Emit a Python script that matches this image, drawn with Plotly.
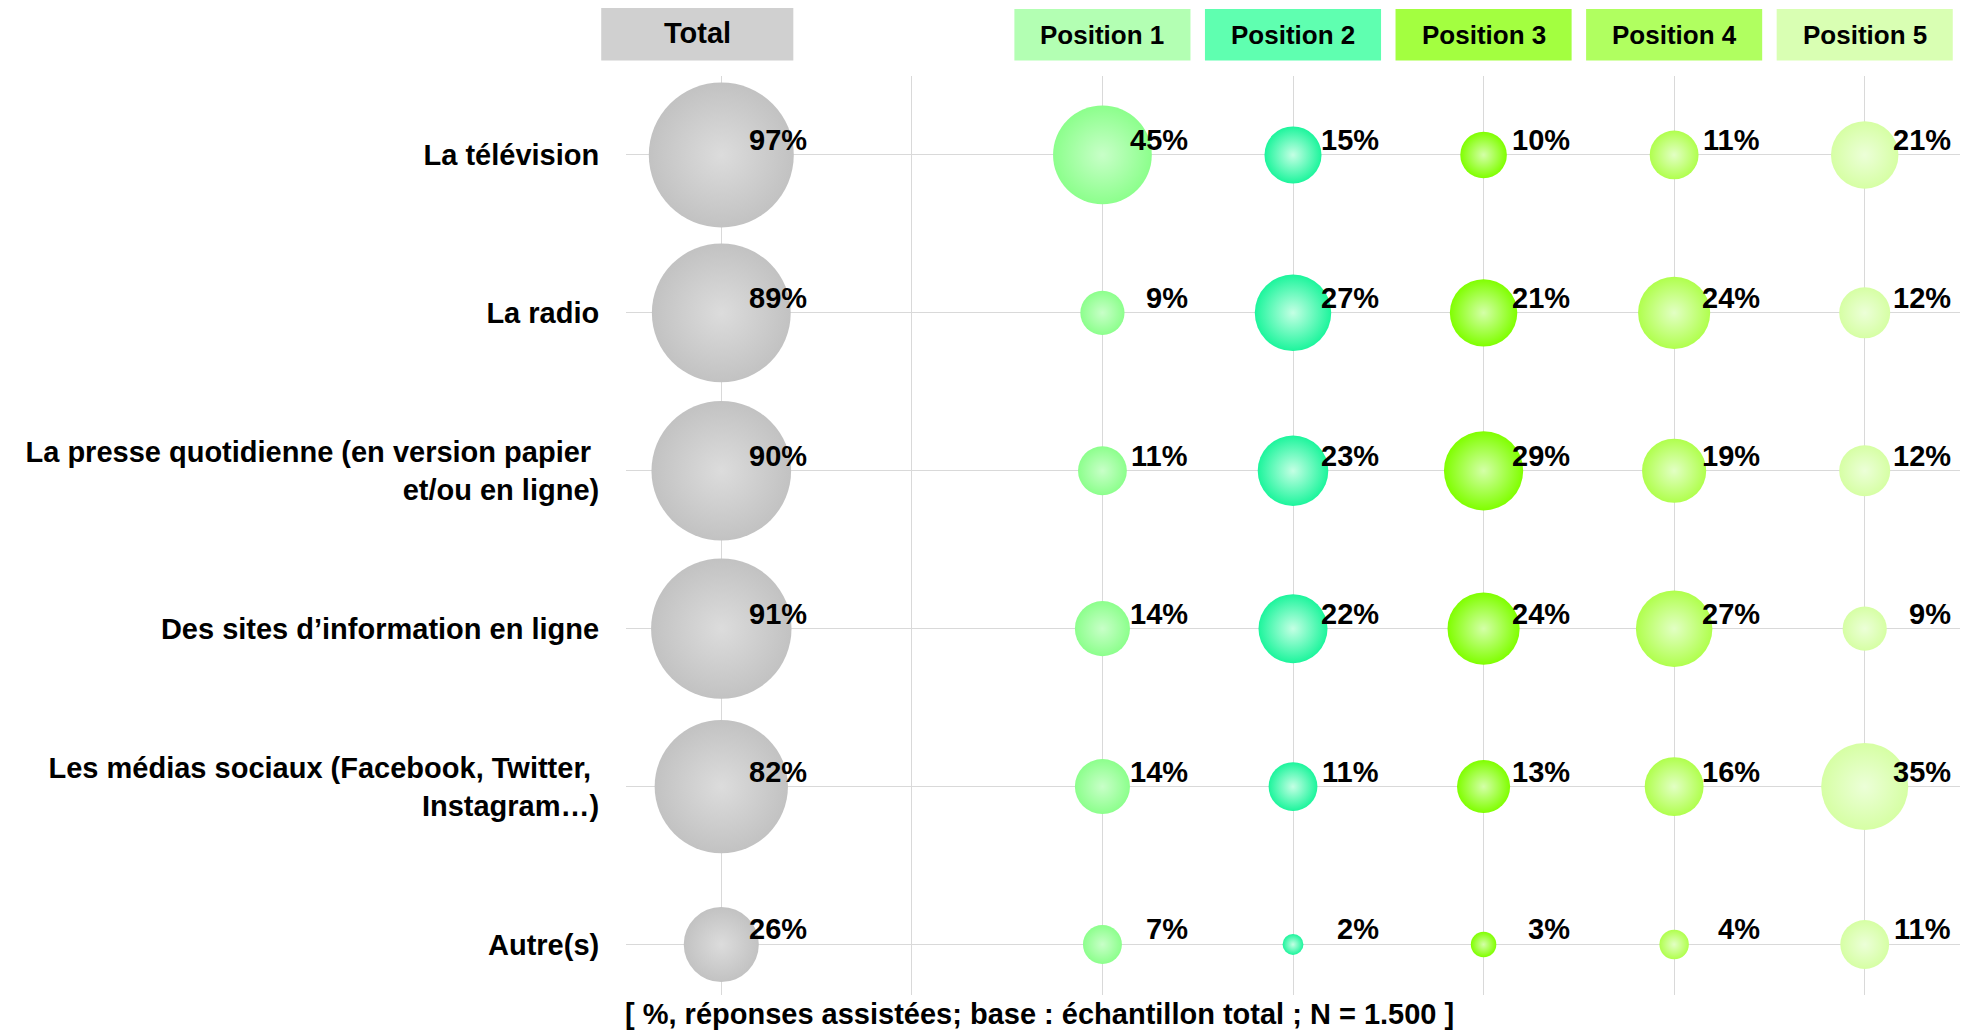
import plotly.graph_objects as go

categories = [
    "La télévision",
    "La radio",
    "La presse quotidienne (en version papier <br>et/ou en ligne)",
    "Des sites d’information en ligne",
    "Les médias sociaux (Facebook, Twitter, <br>Instagram…)",
    "Autre(s)",
]
columns = ["Total", "", "Position 1", "Position 2", "Position 3", "Position 4", "Position 5"]

total = [97, 89, 90, 91, 82, 26]
pos1 = [45, 9, 11, 14, 14, 7]
pos2 = [15, 27, 23, 22, 11, 2]
pos3 = [10, 21, 29, 24, 13, 3]
pos4 = [11, 24, 19, 27, 16, 4]
pos5 = [21, 12, 12, 9, 35, 11]

footnote = "[ %, réponses assistées; base : échantillon total ; N = 1.500 ]"

series = [
    ("Total", 0, total, "#c2c2c2", "#dcdcdc", "#d0d0d0"),
    ("Position 1", 2, pos1, "#8cff8c", "#c8ffc8", "#b3ffb3"),
    ("Position 2", 3, pos2, "#1cf59c", "#c4ffe4", "#5fffb0"),
    ("Position 3", 4, pos3, "#80ff00", "#d4ffa8", "#a3ff40"),
    ("Position 4", 5, pos4, "#b0ff4d", "#e2ffc4", "#b0ff60"),
    ("Position 5", 6, pos5, "#d6ffa4", "#ecffd8", "#d9ffb3"),
]

K = 14.72  # px diameter per sqrt(percent)
FONT = "Liberation Sans, Arial, sans-serif"
XMIN, XMAX = -0.5, 6.5


def xp(v):
    return (v - XMIN) / (XMAX - XMIN)


fig = go.Figure()
rows = list(range(len(categories)))

annotations = []
shapes = []
for name, col, vals, edge, center, boxc in series:
    fig.add_trace(go.Scatter(
        x=[col] * len(vals), y=rows, mode="markers", name=name,
        marker=dict(size=vals, sizemode="area", sizeref=2 / K ** 2,
                    color=edge, gradient=dict(type="radial", color=center),
                    line=dict(width=0), opacity=1),
        hoverinfo="skip", showlegend=False, cliponaxis=False,
    ))
    for r, v in zip(rows, vals):
        annotations.append(dict(
            x=col, y=r, xref="x", yref="y", text=f"<b>{v}%</b>", showarrow=False,
            xanchor="right", yanchor="middle", xshift=88, yshift=15,
            font=dict(family=FONT, size=29, color="#000000"),
        ))
    # header box
    if name == "Total":
        x0, x1, y0, y1 = col - 0.63, col + 0.378, 1.017, 1.077
    else:
        x0, x1, y0, y1 = col - 0.462, col + 0.462, 1.017, 1.073
    shapes.append(dict(type="rect", xref="paper", yref="paper", x0=xp(x0), x1=xp(x1),
                       y0=y0, y1=y1, fillcolor=boxc, line=dict(width=0), layer="below"))
    annotations.append(dict(
        x=xp((x0 + x1) / 2), y=(y0 + y1) / 2, xref="paper", yref="paper",
        text=f"<b>{name}</b>", showarrow=False, xanchor="center", yanchor="middle",
        font=dict(family=FONT, size=26 if name != "Total" else 29, color="#000000"),
    ))

annotations.append(dict(
    x=0.3103, y=-0.021, xref="paper", yref="paper", text=f"<b>{footnote}</b>",
    showarrow=False, xanchor="center", yanchor="middle",
    font=dict(family=FONT, size=29, color="#000000"),
))

fig.update_layout(
    width=1968, height=1022,
    margin=dict(l=618, r=16, t=68, b=35, autoexpand=False),
    paper_bgcolor="white", plot_bgcolor="white",
    annotations=annotations, shapes=shapes,
    xaxis=dict(range=[XMIN, XMAX], tickvals=list(range(len(columns))), showticklabels=False,
               showgrid=True, gridcolor="#d9d9d9", gridwidth=1, zeroline=False,
               showline=False, fixedrange=True, automargin=False),
    yaxis=dict(range=[5.32, -0.5], tickvals=rows, ticktext=[f"<b>{c}</b>" for c in categories],
               showgrid=True, gridcolor="#d9d9d9", gridwidth=1, zeroline=False,
               showline=False, ticks="outside", ticklen=20, tickcolor="rgba(0,0,0,0)",
               tickfont=dict(family=FONT, size=29, color="#000000"), fixedrange=True,
               automargin=False),
    font=dict(family=FONT),
)

fig.write_html("out.html")
